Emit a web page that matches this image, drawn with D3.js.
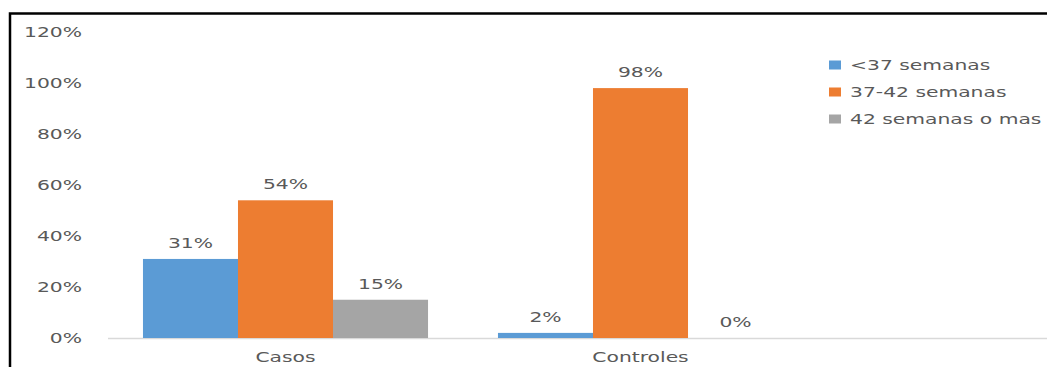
<!DOCTYPE html>
<html>
<head>
<meta charset="utf-8">
<script src="https://cdn.jsdelivr.net/npm/d3@7"></script>
<style>
  html, body { margin: 0; padding: 0; background: #fff; }
  svg { display: block; }
  text { font-family: "DejaVu Sans", sans-serif; fill: #595959; }
</style>
</head>
<body>
<svg id="chart" width="1047" height="367"></svg>
<script>
// Gestational age at birth, cases vs. controls
const categories = ["Casos", "Controles"];
const seriesNames = ["<37 semanas", "37-42 semanas", "42 semanas o mas"];
const seriesColors = ["#5B9BD5", "#ED7D31", "#A5A5A5"];
const lessThan37 = [0.31, 0.02];
const from37to42 = [0.54, 0.98];
const over42 = [0.15, 0.00];
const yTicks = [0, 0.2, 0.4, 0.6, 0.8, 1.0, 1.2];

const seriesValues = [lessThan37, from37to42, over42];

const W = 1047, H = 367;
const svg = d3.select("#chart");
const margin = { left: 108, top: 32, bottom: 338 };
const plotRight = 818;
const sx = 1.4; // horizontal text stretch
const fs = 14.5;

function stretchedText(g, x, y, str, anchor, size) {
  return g.append("text")
    .attr("transform", `translate(${x},${y}) scale(${sx},1)`)
    .attr("text-anchor", anchor)
    .attr("dominant-baseline", "central")
    .style("font-size", size + "px")
    .text(str);
}

const x0 = d3.scaleBand().domain(categories).range([margin.left, plotRight]).paddingInner(0.197).paddingOuter(0.0985);
const x1 = d3.scaleBand().domain(d3.range(seriesNames.length)).range([0, x0.bandwidth()]);
const y = d3.scaleLinear().domain([0, 1.2]).range([margin.bottom, margin.top]);

// frame
svg.append("rect")
  .attr("x", 10).attr("y", 13.5)
  .attr("width", W + 20).attr("height", H + 20)
  .attr("fill", "none").attr("stroke", "#000").attr("stroke-width", 2.5);

// y axis labels
const yAxis = svg.append("g");
yTicks.forEach(t => stretchedText(yAxis, 82, y(t), d3.format(".0%")(t), "end", fs));

// baseline
svg.append("line")
  .attr("x1", margin.left).attr("x2", W)
  .attr("y1", y(0) + 0.5).attr("y2", y(0) + 0.5)
  .attr("stroke", "#D9D9D9").attr("stroke-width", 1.5);

// bars and value labels
const groups = svg.append("g");
categories.forEach((cat, ci) => {
  seriesValues.forEach((vals, si) => {
    const v = vals[ci];
    const bx = x0(cat) + x1(si);
    groups.append("rect")
      .attr("x", bx).attr("y", y(v))
      .attr("width", x1.bandwidth()).attr("height", y(0) - y(v))
      .attr("fill", seriesColors[si]);
    stretchedText(groups, bx + x1.bandwidth() / 2, y(v) - 16, d3.format(".0%")(v), "middle", fs);
  });
  stretchedText(groups, x0(cat) + x0.bandwidth() / 2, 357, cat, "middle", fs);
});

// legend
const legend = svg.append("g");
seriesNames.forEach((name, i) => {
  const ly = 65 + i * 27;
  legend.append("rect")
    .attr("x", 829).attr("y", ly - 4.5)
    .attr("width", 12).attr("height", 9)
    .attr("fill", seriesColors[i]);
  stretchedText(legend, 850, ly, name, "start", fs);
});
</script>
</body>
</html>
